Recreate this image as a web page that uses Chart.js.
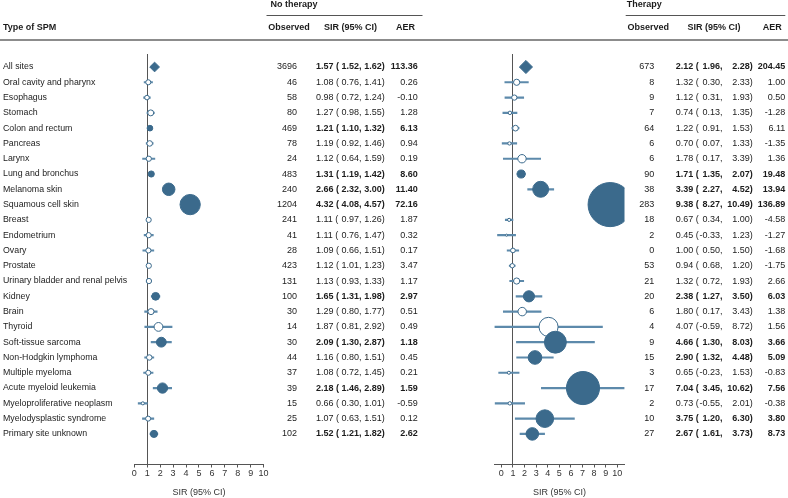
<!DOCTYPE html>
<html>
<head>
<meta charset="utf-8">
<script src="https://cdn.jsdelivr.net/npm/chart.js@4/dist/chart.umd.min.js"></script>
<style>
  html, body { margin: 0; padding: 0; background: #ffffff; }
  #wrap { position: relative; width: 788px; height: 498px; }
  #wrap canvas { position: absolute; left: 0; top: 0; }
</style>
</head>
<body>
<div id="wrap">
  <canvas id="cLeft" width="788" height="498"></canvas>
  <canvas id="cRight" width="788" height="498"></canvas>
</div>
<script>
// ---------------- DATA ----------------
const categories = [
  "All sites", "Oral cavity and pharynx", "Esophagus", "Stomach", "Colon and rectum",
  "Pancreas", "Larynx", "Lung and bronchus", "Melanoma skin", "Squamous cell skin",
  "Breast", "Endometrium", "Ovary", "Prostate", "Urinary bladder and renal pelvis",
  "Kidney", "Brain", "Thyroid", "Soft-tissue sarcoma", "Non-Hodgkin lymphoma",
  "Multiple myeloma", "Acute myeloid leukemia", "Myeloproliferative neoplasm",
  "Myelodysplastic syndrome", "Primary site unknown"
];

// No therapy
const obsNo = [3696, 46, 58, 80, 469, 78, 24, 483, 240, 1204, 241, 41, 28, 423, 131, 100, 30, 14, 30, 44, 37, 39, 15, 25, 102];
const sirNo = [1.57, 1.08, 0.98, 1.27, 1.21, 1.19, 1.12, 1.31, 2.66, 4.32, 1.11, 1.11, 1.09, 1.12, 1.13, 1.65, 1.29, 1.87, 2.09, 1.16, 1.08, 2.18, 0.66, 1.07, 1.52];
const lowNo = [1.52, 0.76, 0.72, 0.98, 1.10, 0.92, 0.64, 1.19, 2.32, 4.08, 0.97, 0.76, 0.66, 1.01, 0.93, 1.31, 0.80, 0.81, 1.30, 0.80, 0.72, 1.46, 0.30, 0.63, 1.21];
const highNo = [1.62, 1.41, 1.24, 1.55, 1.32, 1.46, 1.59, 1.42, 3.00, 4.57, 1.26, 1.47, 1.51, 1.23, 1.33, 1.98, 1.77, 2.92, 2.87, 1.51, 1.45, 2.89, 1.01, 1.51, 1.82];
const aerNo = [113.36, 0.26, -0.10, 1.28, 6.13, 0.94, 0.19, 8.60, 11.40, 72.16, 1.87, 0.32, 0.17, 3.47, 1.17, 2.97, 0.51, 0.49, 1.18, 0.45, 0.21, 1.59, -0.59, 0.12, 2.62];
const sigNo = [1, 0, 0, 0, 1, 0, 0, 1, 1, 1, 0, 0, 0, 0, 0, 1, 0, 0, 1, 0, 0, 1, 0, 0, 1];

// Therapy
const obsTh = [673, 8, 9, 7, 64, 6, 6, 90, 38, 283, 18, 2, 0, 53, 21, 20, 6, 4, 9, 15, 3, 17, 2, 10, 27];
const sirTh = [2.12, 1.32, 1.12, 0.74, 1.22, 0.70, 1.78, 1.71, 3.39, 9.38, 0.67, 0.45, 1.00, 0.94, 1.32, 2.38, 1.80, 4.07, 4.66, 2.90, 0.65, 7.04, 0.73, 3.75, 2.67];
const lowTh = [1.96, 0.30, 0.31, 0.13, 0.91, 0.07, 0.17, 1.35, 2.27, 8.27, 0.34, -0.33, 0.50, 0.68, 0.72, 1.27, 0.17, -0.59, 1.30, 1.32, -0.23, 3.45, -0.55, 1.20, 1.61];
const highTh = [2.28, 2.33, 1.93, 1.35, 1.53, 1.33, 3.39, 2.07, 4.52, 10.49, 1.00, 1.23, 1.50, 1.20, 1.93, 3.50, 3.43, 8.72, 8.03, 4.48, 1.53, 10.62, 2.01, 6.30, 3.73];
const aerTh = [204.45, 1.00, 0.50, -1.28, 6.11, -1.35, 1.36, 19.48, 13.94, 136.89, -4.58, -1.27, -1.68, -1.75, 2.66, 6.03, 1.38, 1.56, 3.66, 5.09, -0.83, 7.56, -0.38, 3.80, 8.73];
const sigTh = [1, 0, 0, 0, 0, 0, 0, 1, 1, 1, 0, 0, 0, 0, 0, 1, 0, 0, 1, 1, 0, 1, 0, 1, 1];

const tickLabels = [0, 1, 2, 3, 4, 5, 6, 7, 8, 9, 10];
const axisTitle = "SIR (95% CI)";
const headers = { type: "Type of SPM", no: "No therapy", th: "Therapy", obs: "Observed", sir: "SIR (95% CI)", aer: "AER" };

// ---------------- STYLE ----------------
const FILL = '#3b6a8c';
const CI_COLOR = '#5d8aab';
const AXIS = '#555555';
const TXT = '#1c1c1c';
const FONT_FAMILY = '"Liberation Sans", Arial, Helvetica, sans-serif';

Chart.defaults.font.family = FONT_FAMILY;
Chart.defaults.color = TXT;

function fontStr(bold, size) { return (bold ? 'bold ' : '') + size + 'px ' + FONT_FAMILY; }

function buildDatasets(sir, low, high, sig) {
  const idx = sir.map((_, i) => i);
  const rad = i => i === 0 ? sir[i] * 3.1 : sir[i] * 2.35;
  return [
    {
      type: 'scatter',
      order: 0,
      data: idx.map(i => ({ x: sir[i], y: i })),
      pointStyle: idx.map(i => i === 0 ? 'rectRot' : 'circle'),
      pointRadius: idx.map(rad),
      pointHoverRadius: idx.map(rad),
      backgroundColor: idx.map(i => sig[i] ? FILL : '#ffffff'),
      borderColor: FILL,
      borderWidth: 1
    },
    {
      type: 'bar',
      order: 1,
      indexAxis: 'y',
      data: idx.map(i => ({ x: [low[i], high[i]], y: i })),
      backgroundColor: CI_COLOR,
      borderWidth: 0,
      barThickness: 1.5
    }
  ];
}

function makeOptions(xmin, xmax, padLeft, padRight) {
  return {
    responsive: false,
    animation: false,
    events: [],
    layout: { padding: { left: padLeft, right: padRight, top: 54, bottom: 0 } },
    plugins: { legend: { display: false }, tooltip: { enabled: false } },
    scales: {
      x: {
        type: 'linear',
        min: xmin,
        max: xmax,
        offset: false,
        afterBuildTicks: s => { s.ticks = tickLabels.map(v => ({ value: v })); },
        afterFit: s => { s.height = 33.5; },
        grid: {
          offset: false,
          drawOnChartArea: true,
          color: c => (c.tick && c.tick.value === 1) ? AXIS : 'rgba(0,0,0,0)',
          tickColor: AXIS,
          tickLength: 3,
          lineWidth: 1
        },
        border: { display: true, color: AXIS, width: 1 },
        ticks: { color: '#333333', font: { size: 9 }, padding: 1, maxRotation: 0, autoSkip: false },
        title: { display: true, text: axisTitle, color: '#333333', font: { size: 9 }, padding: { top: 0, bottom: 0 } }
      },
      y: {
        type: 'linear',
        reverse: true,
        min: -0.85,
        max: 26.0,
        offset: false,
        grid: { offset: false },
        display: false
      }
    }
  };
}

function drawTable(chart, cfg) {
  const ctx = chart.ctx;
  const y = chart.scales.y;
  ctx.save();
  ctx.fillStyle = TXT;
  ctx.textBaseline = 'middle';
  ctx.font = fontStr(true, 9);
  ctx.textAlign = 'left';
  ctx.fillText(cfg.title, cfg.titleX, 5);
  ctx.strokeStyle = AXIS;
  ctx.lineWidth = 1;
  ctx.beginPath();
  ctx.moveTo(cfg.lineX0, 15.5);
  ctx.lineTo(cfg.lineX1, 15.5);
  ctx.stroke();
  ctx.textAlign = 'center';
  ctx.fillText(headers.obs, cfg.obsHeadX, 28);
  ctx.fillText(headers.sir, cfg.sirHeadX, 28);
  ctx.fillText(headers.aer, cfg.aerHeadX, 28);
  for (let i = 0; i < categories.length; i++) {
    const py = y.getPixelForValue(i);
    const b = !!cfg.sig[i];
    ctx.font = fontStr(false, 9);
    ctx.textAlign = 'right';
    ctx.fillText(String(cfg.obs[i]), cfg.obsX, py);
    ctx.font = fontStr(b, 9);
    ctx.textAlign = 'left';
    ctx.fillText(cfg.sir[i].toFixed(2) + ' (', cfg.sirX, py);
    ctx.textAlign = 'right';
    ctx.fillText(cfg.low[i].toFixed(2) + ',', cfg.lowX, py);
    ctx.fillText(cfg.high[i].toFixed(2) + ')', cfg.highX, py);
    ctx.fillText(cfg.aer[i].toFixed(2), cfg.aerX, py);
  }
  ctx.restore();
}

const leftTextPlugin = {
  id: 'leftText',
  afterDraw(chart) {
    const ctx = chart.ctx;
    const y = chart.scales.y;
    ctx.save();
    ctx.fillStyle = TXT;
    ctx.textBaseline = 'middle';
    ctx.font = fontStr(true, 9);
    ctx.textAlign = 'left';
    ctx.fillText(headers.type, 3, 28);
    ctx.strokeStyle = '#8c8c8c';
    ctx.lineWidth = 2;
    ctx.beginPath();
    ctx.moveTo(0, 40);
    ctx.lineTo(788, 40);
    ctx.stroke();
    ctx.font = fontStr(false, 8.8);
    for (let i = 0; i < categories.length; i++) {
      ctx.fillText(categories[i], 3, y.getPixelForValue(i));
    }
    ctx.restore();
    drawTable(chart, {
      title: headers.no, titleX: 270.5, lineX0: 266.5, lineX1: 422.5,
      obsHeadX: 289, sirHeadX: 350.5, aerHeadX: 405.5,
      obs: obsNo, sir: sirNo, low: lowNo, high: highNo, aer: aerNo, sig: sigNo,
      obsX: 297, sirX: 316, lowX: 361.5, highX: 384.7, aerX: 417.7
    });
  }
};

const rightTextPlugin = {
  id: 'rightText',
  afterDraw(chart) {
    drawTable(chart, {
      title: headers.th, titleX: 626.7, lineX0: 625.7, lineX1: 785.3,
      obsHeadX: 648.3, sirHeadX: 714, aerHeadX: 772.3,
      obs: obsTh, sir: sirTh, low: lowTh, high: highTh, aer: aerTh, sig: sigTh,
      obsX: 654.3, sirX: 675.7, lowX: 722.5, highX: 752.7, aerX: 785.3
    });
  }
};

new Chart(document.getElementById('cLeft'), {
  type: 'scatter',
  data: { datasets: buildDatasets(sirNo, lowNo, highNo, sigNo) },
  options: makeOptions(0, 10, 134.3, 788 - 263.6),
  plugins: [leftTextPlugin]
});

new Chart(document.getElementById('cRight'), {
  type: 'scatter',
  data: { datasets: buildDatasets(sirTh, lowTh, highTh, sigTh) },
  options: makeOptions(Math.min(...lowTh), Math.max(...highTh), 494.5, 788 - 624.5),
  plugins: [rightTextPlugin]
});
</script>
</body>
</html>
